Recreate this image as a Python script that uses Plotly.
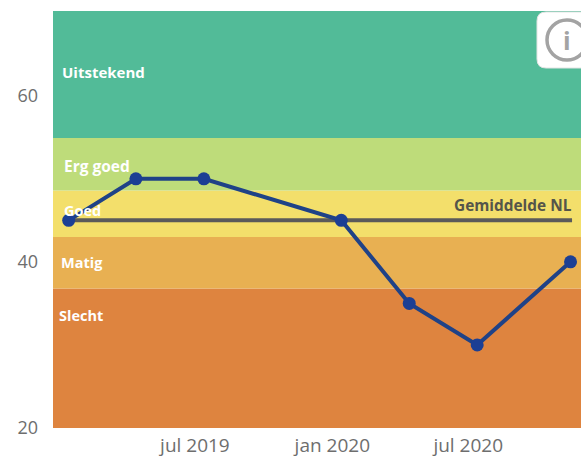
import plotly.graph_objects as go

W, H = 581, 457
L, R, T, B = 53, 0, 11, 29

dates = ["2019-01-13", "2019-04-13", "2019-07-13", "2020-01-13", "2020-04-13", "2020-07-13", "2020-11-15"]
scores = [45, 50, 50, 45, 35, 30, 40]
avg_dates = ["2019-01-13", "2020-11-17"]
avg_values = [45, 45]
band_names = ["Slecht", "Matig", "Goed", "Erg goed", "Uitstekend"]
band_low = [20, 36.8, 43, 48.6, 54.9]
band_high = [36.8, 43, 48.6, 54.9, 70.2]
band_colors = ["#DE843F", "#E8B052", "#F3DF6B", "#BEDC7A", "#52BB98"]
label_y = [33.6, 39.95, 46.2, 51.5, 62.85]
label_x = [57, 59, 62, 62, 60]
label_sizes = [14.5, 14.5, 14.5, 15.5, 15]
tick_dates = ["2019-07-01", "2020-01-01", "2020-07-01"]
tick_text = ["jul 2019", "jan 2020", "jul 2020"]
y_ticks = [20, 40, 60]

fig = go.Figure()
for lo, hi, c in zip(band_low, band_high, band_colors):
    fig.add_hrect(y0=lo, y1=hi, fillcolor=c, line_width=0, layer="below")

fig.add_trace(go.Scatter(x=avg_dates, y=avg_values, mode="lines",
                         line=dict(color="#5A5A5A", width=4), hoverinfo="skip"))
fig.add_trace(go.Scatter(x=dates, y=scores, mode="lines+markers",
                         line=dict(color="#1F4287", width=4),
                         marker=dict(color="#1C3F94", size=13)))

for name, y, x, s in zip(band_names, label_y, label_x, label_sizes):
    fig.add_annotation(text=f"<b>{name}</b>", xref="paper", yref="y",
                       x=(x - L) / (W - L - R), y=y, xanchor="left", yanchor="middle",
                       showarrow=False, font=dict(family="Open Sans", size=s, color="#FFFFFF"))

fig.add_annotation(text="<b>Gemiddelde NL</b>", xref="paper", yref="y",
                   x=(574 - L) / (W - L - R), y=46.75, xanchor="right", yanchor="middle",
                   showarrow=False, font=dict(family="Open Sans", size=15.4, color="#55554A"))

# information button in the top right corner
def px(x): return (x - L) / (W - L - R)
def py(y): return 1 - (y - T) / (H - T - B)

x0, x1, y0, y1, r = 537, 590, 12, 68, 9
box = (f"M {px(x0+r)} {py(y0)} L {px(x1)} {py(y0)} L {px(x1)} {py(y1)} L {px(x0+r)} {py(y1)} "
       f"Q {px(x0)} {py(y1)} {px(x0)} {py(y1-r)} L {px(x0)} {py(y0+r)} Q {px(x0)} {py(y0)} {px(x0+r)} {py(y0)} Z")
fig.add_shape(type="path", path=box, xref="paper", yref="paper",
              fillcolor="#FFFFFF", line=dict(color="#E4E4E4", width=1), layer="above")
fig.add_shape(type="circle", xref="paper", yref="paper",
              x0=px(547), x1=px(587), y0=py(60), y1=py(20),
              line=dict(color="#A3A3A3", width=3.5), fillcolor="#FFFFFF", layer="above")
fig.add_annotation(text="<b>i</b>", xref="paper", yref="paper", x=px(567), y=py(40),
                   showarrow=False, xanchor="center", yanchor="middle",
                   font=dict(family="Open Sans", size=25, color="#A3A3A3"))

fig.update_layout(
    width=W, height=H, autosize=False,
    margin=dict(l=L, r=R, t=T, b=B),
    paper_bgcolor="#FFFFFF", plot_bgcolor="#FFFFFF",
    showlegend=False,
    font=dict(family="Open Sans", color="#6E6E6E", size=18),
    xaxis=dict(type="date", range=["2018-12-23", "2020-11-29"], tickmode="array",
               tickvals=tick_dates, ticktext=tick_text, showgrid=False, zeroline=False,
               showline=False, ticks="", ticklabelstandoff=4, tickfont=dict(size=19, color="#6E6E6E")),
    yaxis=dict(range=[20, 70.2], tickmode="array", tickvals=y_ticks, showgrid=False,
               zeroline=False, showline=False, ticks="", ticklabelstandoff=14, tickfont=dict(size=18, color="#6E6E6E")),
)

fig.write_html("out.html", config=dict(displayModeBar=False),
               post_script="document.body.style.margin='0';document.documentElement.style.overflow='hidden';")
